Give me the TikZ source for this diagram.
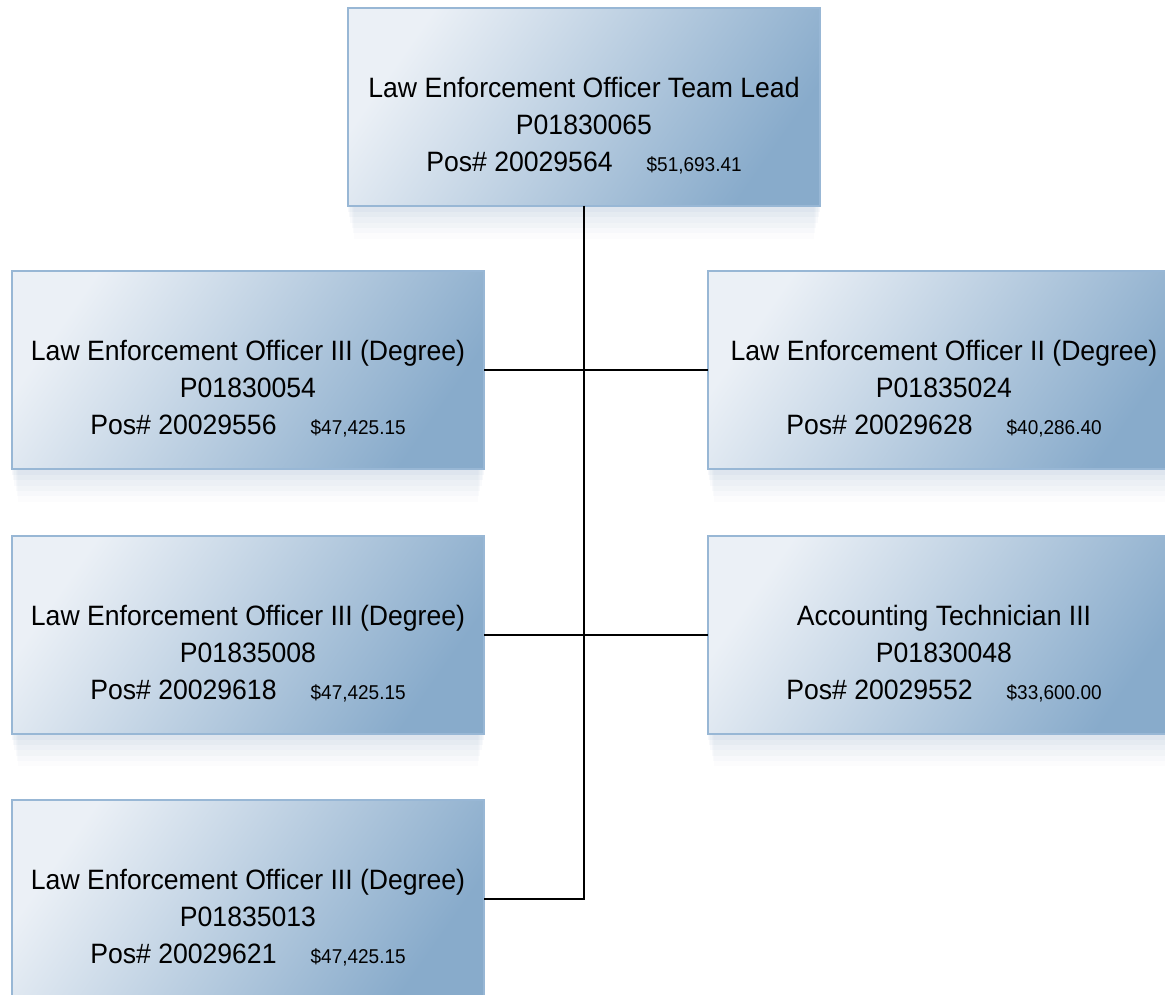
\documentclass[tikz,border=0pt]{standalone}
\usepackage{xcolor}
\usepackage{fontspec}
\setmainfont{Liberation Sans}[FakeStretch=0.95]
\usepackage{tikz}
\usetikzlibrary{positioning,shadows}

\definecolor{boxlight}{HTML}{EBF0F6}
\definecolor{boxdark}{HTML}{88ABCB}
\definecolor{boxedge}{HTML}{98B7D5}
\definecolor{shade}{HTML}{5A7FA8}

\tikzset{
  posbox/.style = {draw = boxedge, line width = 2pt,
    minimum width = 472pt, minimum height = 198pt,
    inner sep = 0pt, outer sep = 0pt, align = center,
    top color = boxlight, bottom color = boxdark, shading angle = 55,
    general shadow = {shadow yshift = -6pt, fill = shade, opacity = .05},
    general shadow = {shadow yshift = -12pt, shadow scale = .995, fill = shade, opacity = .045},
    general shadow = {shadow yshift = -18pt, shadow scale = .99, fill = shade, opacity = .04},
    general shadow = {shadow yshift = -24pt, shadow scale = .985, fill = shade, opacity = .035},
    general shadow = {shadow yshift = -30pt, shadow scale = .98, fill = shade, opacity = .03},
    general shadow = {shadow yshift = -36pt, shadow scale = .975, fill = shade, opacity = .02},
    font = \fontsize{28pt}{37pt}\selectfont},
  wire/.style = {draw = black, line width = 2pt},
}
\newcommand{\lift}{\rule{0pt}{58pt}}
\newcommand{\pay}[1]{\hspace{34pt}{\fontsize{20pt}{20pt}\selectfont #1}}

\begin{document}
\begin{tikzpicture}[x = 1pt, y = -1pt]
  \useasboundingbox (0,0) rectangle (1165,995);

  \node[posbox] (lead) at (584,107)
    {\lift Law Enforcement Officer Team Lead\\ P01830065\\ Pos\# 20029564\pay{\$51,693.41}};

  \node[posbox] (leoa) at (248,370)
    {\lift Law Enforcement Officer III (Degree)\\ P01830054\\ Pos\# 20029556\pay{\$47,425.15}};
  \node[posbox, below = 66.5pt of leoa] (leob)
    {\lift Law Enforcement Officer III (Degree)\\ P01835008\\ Pos\# 20029618\pay{\$47,425.15}};
  \node[posbox, below = 66.5pt of leob] (leoc)
    {\lift Law Enforcement Officer III (Degree)\\ P01835013\\ Pos\# 20029621\pay{\$47,425.15}};

  \node[posbox] (leotwo) at (944,370)
    {\lift Law Enforcement Officer II (Degree)\\ P01835024\\ Pos\# 20029628\pay{\$40,286.40}};
  \node[posbox, below = 66.5pt of leotwo] (acct)
    {\lift Accounting Technician III\\ P01830048\\ Pos\# 20029552\pay{\$33,600.00}};

  % reporting lines
  \draw[wire] (lead.south) -- (lead.south |- leoc.east) -- (leoc.east);
  \draw[wire] (leoa.east) -- (leotwo.west);
  \draw[wire] (leob.east) -- (acct.west);
\end{tikzpicture}
\end{document}
